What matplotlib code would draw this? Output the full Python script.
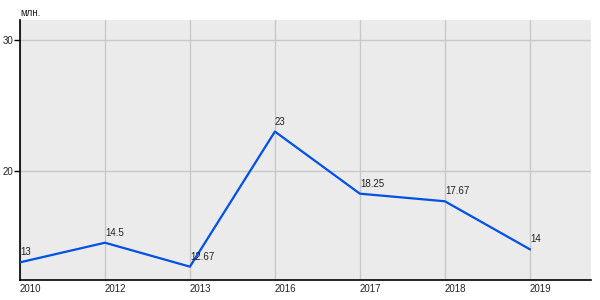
import matplotlib
matplotlib.use("Agg")
import matplotlib.pyplot as plt

years = ["2010", "2012", "2013", "2016", "2017", "2018", "2019"]
values = [13, 14.5, 12.67, 23, 18.25, 17.67, 14]
labels = ["13", "14.5", "12.67", "23", "18.25", "17.67", "14"]
yticks = [20, 30]
unit = "млн."

plt.rcParams['font.family'] = ['Liberation Sans', 'DejaVu Sans']
fs = 7
fig = plt.figure(figsize=(6, 3), dpi=100)
ax = fig.add_axes([20/600, 20/300, 571/600, 260/300])
ax.set_facecolor('#ebebeb')
x = list(range(len(years)))
ax.plot(x, values, color='#0050e6', lw=1.6, zorder=3)
for xi, v, lab in zip(x, values, labels):
    ax.annotate(lab, (xi, v), xytext=(0, 3.5), textcoords='offset points',
                ha='left', va='bottom', fontsize=fs, color='#222222', zorder=4)
ax.set_xlim(0, 6.72)
ax.set_ylim(11.65, 31.53)
ax.set_xticks(x)
ax.set_xticklabels(years, ha='left', fontsize=fs, color='#222222')
ax.set_yticks(yticks)
ax.set_yticklabels([str(t) for t in yticks], fontsize=fs, color='#222222')
ax.tick_params(axis='x', length=0, pad=3)
ax.tick_params(axis='y', length=4, width=1, pad=1)
ax.grid(True, color='#c8c8c8', lw=1)
ax.set_axisbelow(True)
for s in ['top', 'right']:
    ax.spines[s].set_visible(False)
for s in ['left', 'bottom']:
    ax.spines[s].set_color('black')
    ax.spines[s].set_linewidth(1.2)
fig.text(20/600, 1 - 12.5/300, unit, fontsize=fs, va='center', ha='left', color='#222222')
fig.savefig('out.png', dpi=100)
